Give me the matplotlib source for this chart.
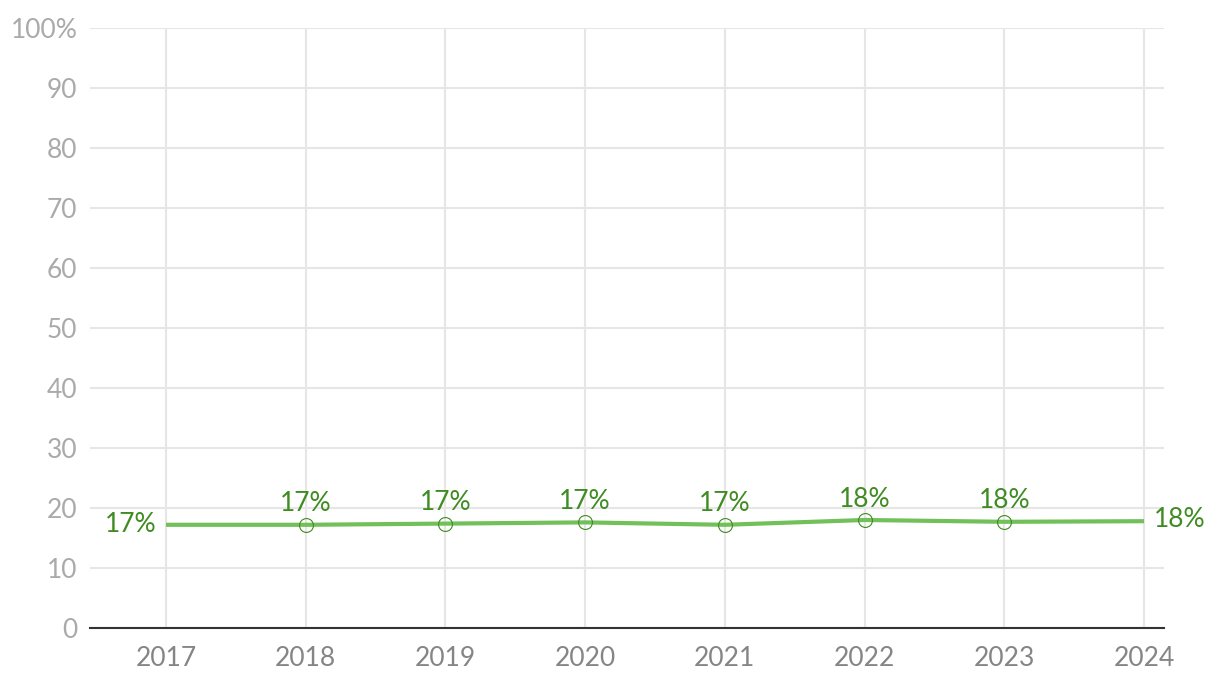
import matplotlib
matplotlib.use("Agg")
from matplotlib import pyplot as plt

years = [2017, 2018, 2019, 2020, 2021, 2022, 2023, 2024]
values = [17.2, 17.2, 17.4, 17.6, 17.2, 18.0, 17.7, 17.8]
labels = ["17%", "17%", "17%", "17%", "17%", "18%", "18%", "18%"]
yticks = [0, 10, 20, 30, 40, 50, 60, 70, 80, 90, 100]
ytick_labels = ["0", "10", "20", "30", "40", "50", "60", "70", "80", "90", "100%"]

plt.rcParams['font.family'] = ['Lato', 'DejaVu Sans']

fig = plt.figure(figsize=(12.2, 6.92), dpi=100)
ax = fig.add_axes([90/1220, 64/692, 1074/1220, 600/692])

line_c = '#72c05a'
text_c = '#3f8c22'
fs = 19

ax.plot(years, values, color=line_c, lw=3, zorder=3, solid_capstyle='butt')
ax.plot(years[1:-1], values[1:-1], 'o', ms=10, mfc='none', mec=text_c, mew=0.8, zorder=4)

for i, (x, v, t) in enumerate(zip(years, values, labels)):
    if i == 0:
        ax.annotate(t, (x, v), xytext=(-7, 0), textcoords='offset points',
                    ha='right', va='center', color=text_c, fontsize=fs)
    elif i == len(years) - 1:
        ax.annotate(t, (x, v), xytext=(7, 1), textcoords='offset points',
                    ha='left', va='center', color=text_c, fontsize=fs)
    else:
        ax.annotate(t, (x, v), xytext=(0, 6), textcoords='offset points',
                    ha='center', va='bottom', color=text_c, fontsize=fs)

ax.set_xlim(2017 - 0.544, 2024 + 0.143)
ax.set_ylim(0, 100)
ax.set_xticks(years)
ax.set_xticklabels([str(y) for y in years], color='#858585', fontsize=fs)
ax.set_yticks(yticks)
ax.set_yticklabels(ytick_labels, color='#aaaaaa', fontsize=fs)
ax.tick_params(axis='both', length=0)
ax.tick_params(axis='x', pad=13)
ax.tick_params(axis='y', pad=9)

ax.grid(True, color='#e6e6e6', lw=1.5)
ax.set_axisbelow(True)
for s in ['top', 'right', 'left']:
    ax.spines[s].set_visible(False)
ax.spines['bottom'].set_color('#333333')
ax.spines['bottom'].set_linewidth(1.5)
ax.spines['bottom'].set_zorder(5)

fig.savefig('out.png', dpi=100)
